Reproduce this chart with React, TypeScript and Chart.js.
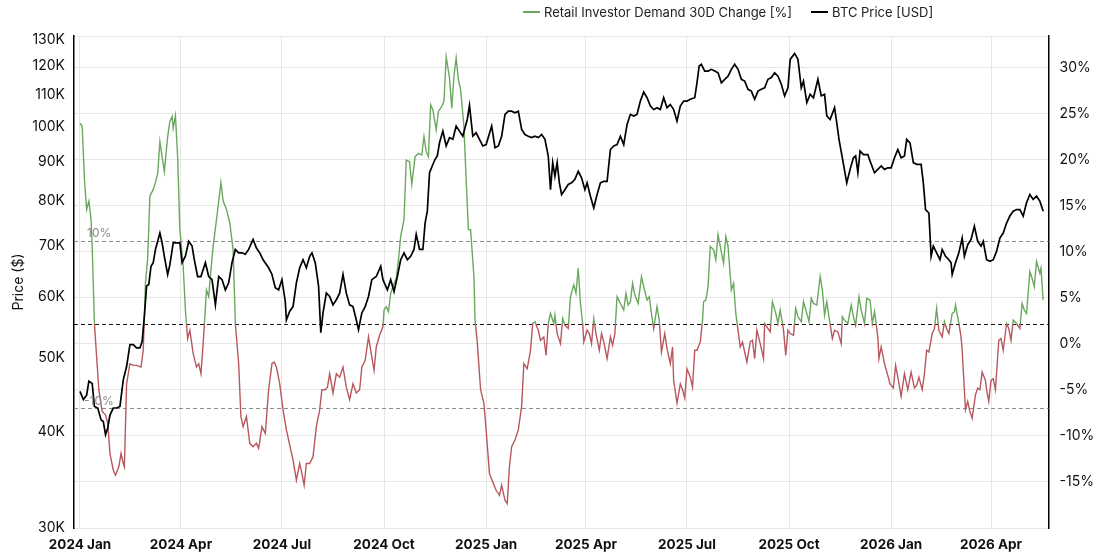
import React, { useEffect, useRef } from 'react';
import { Chart, registerables } from 'chart.js';

Chart.register(...registerables);

// ---- data (days since 2024-01-01) ----
const PRICE_DAYS = [
  0, 3, 6, 8, 11, 13, 16, 19, 21, 23,
  25, 27, 30, 33, 36, 39, 42, 45, 48, 51,
  54, 56, 58, 60, 62, 64, 66, 68, 72, 74,
  76, 79, 81, 84, 87, 90, 92, 95, 98, 101,
  103, 106, 109, 113, 116, 119, 122, 125, 128, 131,
  134, 137, 140, 143, 146, 149, 152, 156, 159, 162,
  165, 170, 173, 176, 179, 182, 185, 186, 189, 192,
  195, 198, 201, 204, 207, 209, 212, 215, 217, 219,
  222, 225, 228, 231, 234, 237, 240, 243, 246, 249,
  251, 254, 257, 260, 263, 267, 271, 273, 277, 280,
  283, 286, 289, 292, 295, 298, 301, 303, 306, 309,
  311, 313, 315, 318, 320, 322, 324, 327, 330, 333,
  336, 339, 342, 345, 347, 349, 351, 354, 357, 360,
  363, 366, 371, 374, 377, 380, 383, 386, 389, 392,
  395, 398, 401, 404, 407, 410, 413, 416, 419, 422,
  424, 426, 428, 430, 432, 434, 437, 440, 443, 446,
  449, 452, 455, 457, 460, 463, 466, 469, 472, 475,
  478, 481, 484, 487, 490, 493, 496, 499, 502, 505,
  508, 511, 514, 517, 520, 523, 526, 529, 532, 535,
  538, 541, 544, 547, 550, 554, 556, 558, 560, 563,
  566, 569, 572, 575, 578, 581, 584, 587, 590, 593,
  596, 599, 602, 605, 608, 611, 614, 617, 620, 623,
  626, 629, 632, 635, 638, 640, 644, 647, 650, 652,
  655, 658, 661, 665, 668, 671, 673, 676, 680, 682,
  684, 687, 691, 694, 697, 699, 701, 703, 706, 710,
  712, 716, 719, 722, 725, 728, 731, 734, 737, 740,
  743, 745, 748, 751, 754, 758, 760, 762, 765, 767,
  769, 772, 775, 777, 780, 783, 785, 786, 789, 792,
  795, 797, 800, 803, 806, 809, 812, 814, 817, 820,
  823, 826, 829, 832, 835, 838, 841, 844, 847, 850,
  853, 856, 859, 862, 865, 868,
];
const PRICE_K = [
  45.2, 44.1, 44.7, 46.6, 46.3, 43.2, 43.0, 41.5, 41.3, 39.7,
  40.5, 42.1, 43.0, 43.0, 43.2, 46.8, 48.7, 52.0, 52.0, 51.5,
  51.5, 52.5, 56.6, 62.0, 62.3, 65.8, 66.5, 69.2, 72.7, 70.6,
  67.8, 64.2, 66.1, 70.6, 70.6, 70.6, 66.5, 67.8, 70.9, 69.9,
  67.1, 63.8, 63.8, 66.5, 63.8, 63.2, 58.6, 63.8, 63.2, 61.3,
  62.6, 66.5, 69.2, 68.5, 68.5, 68.2, 69.2, 71.3, 69.5, 68.5,
  67.1, 65.5, 64.2, 61.7, 61.3, 63.2, 59.2, 56.0, 57.5, 58.3,
  62.6, 65.5, 67.1, 65.5, 67.8, 68.5, 66.5, 62.0, 53.9, 57.2,
  60.7, 60.1, 58.6, 59.5, 60.7, 64.2, 60.7, 58.6, 58.3, 56.0,
  54.4, 57.2, 58.3, 60.1, 63.2, 63.8, 65.8, 63.2, 61.3, 63.2,
  61.0, 63.8, 67.1, 68.5, 67.1, 67.8, 69.2, 72.4, 69.2, 69.2,
  74.9, 77.6, 87.1, 89.3, 90.7, 91.6, 95.3, 98.7, 94.4, 96.8,
  96.3, 100.2, 98.7, 97.2, 99.7, 102.2, 106.6, 97.2, 98.2, 96.3,
  94.4, 94.8, 100.2, 93.9, 94.4, 97.2, 103.8, 104.8, 104.8, 104.3,
  104.8, 99.2, 97.7, 97.2, 96.8, 97.2, 96.8, 97.7, 96.3, 91.6,
  82.8, 89.8, 86.2, 89.8, 84.5, 81.6, 82.8, 84.1, 84.5, 85.4,
  87.5, 85.8, 82.8, 84.5, 81.2, 78.4, 81.6, 84.5, 84.9, 84.9,
  93.4, 94.4, 94.8, 97.2, 94.8, 100.7, 103.8, 103.3, 103.8, 108.0,
  111.0, 109.1, 106.4, 105.3, 105.9, 105.3, 109.1, 105.9, 106.9, 105.3,
  101.7, 106.4, 108.0, 108.0, 108.6, 109.1, 114.1, 120.0, 120.6, 118.2,
  118.2, 118.8, 118.2, 117.6, 114.1, 115.3, 116.4, 118.8, 120.6, 118.8,
  115.3, 114.7, 111.9, 111.3, 108.6, 111.3, 111.9, 112.4, 115.3, 115.9,
  117.6, 116.4, 113.6, 109.7, 112.4, 122.4, 124.6, 122.4, 112.4, 114.7,
  107.5, 110.2, 109.1, 115.3, 109.7, 110.2, 103.3, 102.2, 105.9, 101.2,
  96.3, 91.1, 84.5, 88.0, 91.1, 91.6, 87.1, 93.0, 92.0, 92.0,
  90.2, 87.1, 88.0, 88.9, 88.0, 88.4, 88.4, 91.1, 93.4, 91.1,
  91.6, 96.3, 95.3, 89.8, 89.3, 89.3, 84.5, 78.0, 77.2, 67.8,
  69.9, 68.5, 67.1, 69.2, 67.8, 67.1, 66.5, 64.2, 66.5, 68.5,
  71.6, 67.8, 70.2, 71.3, 74.2, 70.9, 69.9, 70.9, 67.1, 66.8,
  67.1, 68.8, 71.6, 72.7, 74.9, 76.5, 77.6, 78.0, 78.0, 76.5,
  79.6, 81.6, 80.4, 81.2, 80.0, 77.6,
];

const DEMAND_DAYS = [
  0, 2, 4, 6, 8, 10, 11, 13, 15, 17,
  20, 23, 25, 27, 30, 32, 35, 37, 39, 40,
  42, 45, 48, 51, 55, 57, 59, 61, 63, 66,
  68, 70, 72, 74, 76, 79, 81, 83, 84, 86,
  88, 90, 93, 95, 97, 99, 102, 105, 107, 109,
  111, 114, 116, 118, 120, 123, 127, 129, 132, 135,
  138, 140, 143, 145, 147, 150, 153, 156, 159, 161,
  164, 167, 170, 173, 175, 177, 180, 183, 186, 189,
  192, 195, 198, 200, 202, 204, 207, 210, 213, 216,
  218, 221, 223, 225, 228, 231, 234, 237, 240, 243,
  246, 249, 252, 254, 257, 260, 262, 265, 267, 270,
  273, 274, 276, 278, 280, 282, 285, 287, 289, 292,
  294, 297, 299, 302, 305, 308, 310, 312, 314, 316,
  318, 321, 323, 326, 328, 330, 333, 335, 337, 339,
  341, 343, 346, 348, 350, 352, 355, 356, 358, 361,
  364, 366, 369, 372, 375, 378, 380, 383, 385, 387,
  389, 392, 395, 398, 400, 403, 406, 408, 410, 413,
  415, 418, 420, 422, 424, 427, 428, 430, 431, 433,
  435, 437, 440, 442, 445, 447, 449, 451, 453, 454,
  457, 459, 461, 463, 465, 468, 470, 472, 475, 478,
  480, 482, 484, 487, 490, 492, 494, 496, 498, 500,
  503, 506, 508, 511, 513, 515, 517, 520, 522, 524,
  527, 529, 532, 534, 535, 538, 541, 543, 545, 547,
  550, 552, 554, 556, 559, 561, 562, 564, 566, 568,
  571, 573, 575, 577, 580, 582, 584, 587, 589, 591,
  593, 595, 597, 599, 601, 604, 606, 608, 610, 613,
  616, 617, 619, 622, 624, 627, 629, 631, 634, 636,
  638, 640, 643, 645, 647, 650, 652, 655, 657, 659,
  661, 664, 667, 669, 671, 673, 675, 678, 680, 683,
  686, 687, 689, 692, 695, 697, 699, 702, 704, 707,
  709, 712, 714, 716, 719, 720, 722, 725, 728, 730,
  733, 735, 737, 740, 743, 746, 747, 749, 752, 754,
  756, 759, 761, 763, 765, 768, 770, 772, 774, 777,
  779, 781, 783, 786, 788, 789, 792, 794, 795, 798,
  800, 802, 804, 807, 809, 811, 813, 816, 817, 819,
  821, 823, 825, 828, 830, 832, 835, 837, 839, 841,
  844, 847, 849, 851, 853, 856, 858, 860, 862, 865,
  866, 868,
];
const DEMAND_PCT = [
  24.0, 23.6, 17.3, 13.7, 14.7, 12.5, 9.3, 0.1, -3.9, -7.8,
  -10.4, -10.8, -11.8, -15.4, -17.4, -18.0, -17.0, -15.4, -16.6, -17.0,
  -7.1, -4.7, -4.9, -4.9, -5.1, -3.1, 4.9, 7.9, 15.3, 16.1,
  16.9, 18.0, 21.8, 20.0, 18.2, 22.4, 24.2, 24.8, 23.4, 24.9,
  20.0, 11.3, 6.9, 1.7, -1.7, -0.7, -3.5, -5.1, -4.7, -5.9,
  -2.3, 4.1, 3.3, 6.5, 9.3, 12.5, 16.9, 14.7, 13.7, 12.1,
  8.9, 0.1, -4.7, -11.0, -12.2, -11.0, -14.2, -14.6, -14.2, -14.8,
  -12.2, -13.0, -7.8, -4.7, -4.5, -5.1, -7.1, -10.2, -12.6, -14.4,
  -16.2, -18.6, -16.6, -17.8, -19.2, -16.6, -16.6, -15.8, -12.2, -10.2,
  -7.8, -7.8, -7.5, -5.9, -8.2, -5.9, -6.3, -5.1, -7.5, -9.0,
  -7.1, -8.2, -7.8, -5.1, -4.3, -1.5, -3.1, -5.5, -2.7, -1.3,
  -0.3, 1.7, 2.1, 1.5, 3.7, 4.5, 5.5, 7.7, 10.5, 12.5,
  19.6, 19.4, 16.7, 20.0, 20.4, 20.2, 22.4, 20.6, 20.0, 26.2,
  25.6, 23.2, 25.4, 26.0, 26.6, 31.9, 29.4, 25.8, 29.6, 31.8,
  29.2, 28.0, 23.6, 17.3, 11.3, 11.3, 5.7, 0.5, -2.1, -7.8,
  -9.4, -12.6, -17.8, -18.8, -19.8, -20.4, -19.2, -21.0, -21.4, -17.0,
  -14.6, -13.8, -12.6, -9.8, -4.7, -5.3, -3.1, 0.1, 0.3, -0.7,
  -1.9, -1.5, -3.7, 0.1, 1.3, 0.1, 1.1, -1.1, -1.5, -2.3,
  0.7, -0.1, -0.5, 3.3, 4.7, 3.7, 6.7, 2.5, 0.1, -2.1,
  -0.7, -1.1, -2.3, 0.7, -1.1, -3.1, -1.1, -2.1, -4.1, -1.5,
  -2.5, -1.1, 3.3, 2.5, 1.7, 3.7, 2.3, 2.7, 4.9, 3.5,
  2.5, 5.7, 4.5, 2.9, 3.3, 1.3, -0.5, 2.1, 0.5, -3.3,
  -1.1, -2.9, -4.7, -2.7, -6.7, -9.4, -7.1, -7.8, -8.8, -5.3,
  -6.3, -7.5, -3.1, -3.1, -2.1, 0.5, 2.7, 2.9, 4.5, 9.3,
  8.9, 7.7, 10.7, 9.3, 7.3, 10.5, 9.3, 4.1, 4.9, 1.3,
  -0.7, -2.7, -2.1, -3.3, -4.5, -2.1, -1.9, -4.1, -0.7, -2.3,
  -4.1, 0.1, -0.3, -0.9, 2.7, 1.3, 0.1, 1.7, -0.7, -3.7,
  -0.7, -1.1, -1.3, 1.9, 0.9, 0.3, 2.7, 1.3, 0.3, 3.1,
  2.5, 2.3, 5.7, 4.1, 1.1, 2.7, 0.9, -1.7, -0.7, -0.9,
  -2.3, 0.9, 0.5, 0.1, 2.3, 0.9, -0.1, 3.3, 1.7, 0.1,
  3.1, 2.9, 0.1, 1.5, -1.5, -4.1, -2.7, -4.7, -6.1, -7.1,
  -7.6, -4.9, -6.3, -8.6, -5.9, -7.8, -7.1, -5.7, -7.6, -7.3,
  -6.3, -7.8, -5.9, -3.1, -3.3, -1.1, -0.5, 1.9, -0.7, -1.5,
  0.3, -0.5, -1.1, 1.3, 1.5, 2.3, 0.1, -1.5, -3.1, -10.2,
  -9.2, -10.4, -11.2, -8.4, -7.6, -7.8, -5.7, -6.7, -7.8, -9.2,
  -6.7, -6.5, -7.8, -1.9, -1.7, -3.1, 0.1, -0.5, -1.9, 0.5,
  0.1, -0.5, 2.5, 1.7, 1.3, 6.3, 5.5, 4.5, 7.5, 6.1,
  6.7, 2.9,
];

const X_TICK_DAYS = [0, 91, 182, 274, 366, 456, 547, 639, 731, 821];
const X_TICK_LABELS = [
  '2024 Jan', '2024 Apr', '2024 Jul', '2024 Oct', '2025 Jan',
  '2025 Apr', '2025 Jul', '2025 Oct', '2026 Jan', '2026 Apr',
];
const PRICE_TICKS_K = [30, 40, 50, 60, 70, 80, 90, 100, 110, 120, 130];
const PCT_TICKS = [-15, -10, -5, 0, 5, 10, 15, 20, 25, 30];
const BAND_LEVELS = [10, 0, -10];

const GREEN = '#6aa85e';
const RED = '#b8575d';
const FONT = 'Inter, "Noto Sans", Arial, sans-serif';
const TEXT = '#111111';
const GRID = '#e6e6e6';

const bandsPlugin = {
  id: 'bands',
  beforeDatasetsDraw(chart: any) {
    const { ctx, chartArea, scales } = chart;
    const s = scales.yPct;
    ctx.save();
    ctx.lineWidth = 1;
    ctx.setLineDash([4, 3]);
    BAND_LEVELS.forEach((v) => {
      const y = Math.round(s.getPixelForValue(v)) + 0.5;
      ctx.strokeStyle = v === 0 ? '#111111' : '#8c8c8c';
      ctx.beginPath();
      ctx.moveTo(chartArea.left, y);
      ctx.lineTo(chartArea.right, y);
      ctx.stroke();
    });
    ctx.restore();
  },
  afterDatasetsDraw(chart: any) {
    const { ctx, chartArea, scales } = chart;
    const s = scales.yPct;
    ctx.save();
    ctx.font = `12px ${FONT}`;
    ctx.fillStyle = '#8a8a8a';
    ctx.textAlign = 'left';
    ctx.textBaseline = 'middle';
    BAND_LEVELS.filter((v) => v !== 0).forEach((v) => {
      const y = s.getPixelForValue(v) - 7;
      ctx.fillText(`${v}%`, chartArea.left + (v < 0 ? 10 : 13), y);
    });
    ctx.restore();
  },
};

function demandColor(ctx: any) {
  const chart = ctx.chart;
  const { chartArea, scales } = chart;
  if (!chartArea || !scales.yPct) return GREEN;
  const y0 = scales.yPct.getPixelForValue(0);
  const h = chartArea.bottom - chartArea.top;
  const stop = Math.min(1, Math.max(0, (y0 - chartArea.top) / h));
  const g = chart.ctx.createLinearGradient(0, chartArea.top, 0, chartArea.bottom);
  g.addColorStop(0, GREEN);
  g.addColorStop(stop, GREEN);
  g.addColorStop(stop, RED);
  g.addColorStop(1, RED);
  return g;
}

export default function App() {
  const canvasRef = useRef<HTMLCanvasElement | null>(null);

  useEffect(() => {
    if (!canvasRef.current) return;
    const chart = new Chart(canvasRef.current, {
      type: 'line',
      data: {
        datasets: [
          {
            label: 'BTC Price [USD]',
            data: PRICE_DAYS.map((d, i) => ({ x: d, y: PRICE_K[i] })),
            yAxisID: 'yPrice',
            borderColor: '#000000',
            borderWidth: 1.7,
            pointRadius: 0,
            tension: 0,
            order: 0,
          },
          {
            label: 'Retail Investor Demand 30D Change [%]',
            data: DEMAND_DAYS.map((d, i) => ({ x: d, y: DEMAND_PCT[i] })),
            yAxisID: 'yPct',
            borderColor: demandColor,
            borderWidth: 1.4,
            pointRadius: 0,
            tension: 0,
            order: 1,
          },
        ],
      },
      options: {
        animation: false,
        responsive: true,
        maintainAspectRatio: false,
        events: [],
        layout: { padding: { top: 36, left: 0, right: 0, bottom: 0 } },
        plugins: {
          legend: { display: false },
          tooltip: { enabled: false },
        },
        scales: {
          x: {
            type: 'linear',
            min: -5.4,
            max: 872.8,
            afterBuildTicks: (s: any) => {
              s.ticks = X_TICK_DAYS.map((v) => ({ value: v }));
            },
            afterFit: (s: any) => {
              s.height = 27;
            },
            ticks: {
              autoSkip: false,
              maxRotation: 0,
              padding: 9,
              color: TEXT,
              font: { family: FONT, size: 13.5, weight: 'bold' },
              callback: (v: any) => {
                const i = X_TICK_DAYS.indexOf(Number(v));
                return i >= 0 ? X_TICK_LABELS[i] : '';
              },
            },
            grid: { color: GRID, drawTicks: false, lineWidth: 1 },
            border: { display: false },
          },
          yPrice: {
            type: 'logarithmic',
            position: 'left',
            min: 30,
            max: 131.3,
            afterBuildTicks: (s: any) => {
              s.ticks = PRICE_TICKS_K.map((v) => ({ value: v }));
            },
            afterFit: (s: any) => {
              s.width = 74;
            },
            ticks: {
              autoSkip: false,
              padding: 9,
              color: TEXT,
              font: { family: FONT, size: 14 },
              callback: (v: any) => `${v}K`,
            },
            grid: { display: false, drawTicks: false },
            border: { display: true, color: '#000000', width: 1.5 },
            title: {
              display: true,
              text: 'Price ($)',
              color: TEXT,
              font: { family: FONT, size: 14 },
              padding: { top: 10, bottom: 0 },
            },
          },
          yRight: {
            type: 'linear',
            position: 'right',
            min: -20,
            max: 33.4,
            afterBuildTicks: (s: any) => {
              s.ticks = [-20, ...PCT_TICKS, 33.4].map((v) => ({ value: v }));
            },
            afterFit: (s: any) => {
              s.width = 51.5;
            },
            ticks: {
              autoSkip: false,
              padding: 11,
              color: TEXT,
              font: { family: FONT, size: 14 },
              callback: (v: any) => (PCT_TICKS.includes(Number(v)) ? `${v}%` : ''),
            },
            grid: { color: GRID, drawTicks: false, lineWidth: 1 },
            border: { display: true, color: '#000000', width: 1.5 },
          },
          yPct: {
            type: 'linear',
            display: false,
            min: -24.3,
            max: 34.4,
          },
        },
      },
      plugins: [bandsPlugin],
    } as any);
    return () => chart.destroy();
  }, []);

  const legendItem = (color: string, text: string, thick: number) => (
    <div style={{ display: 'flex', alignItems: 'center' }}>
      <span
        style={{
          display: 'inline-block',
          width: 17,
          height: thick,
          background: color,
          marginRight: 4,
        }}
      />
      <span>{text}</span>
    </div>
  );

  return (
    <div
      style={{
        position: 'absolute',
        left: 0,
        top: 0,
        width: 1100,
        height: 555,
        background: '#ffffff',
        fontFamily: FONT,
      }}
    >
      <canvas ref={canvasRef} />
      <div
        style={{
          position: 'absolute',
          left: 523,
          top: 4,
          display: 'flex',
          gap: 19,
          fontSize: 13,
          lineHeight: '16px',
          color: '#222222',
          whiteSpace: 'nowrap',
        }}
      >
        {legendItem(GREEN, 'Retail Investor Demand 30D Change [%]', 1.5)}
        {legendItem('#000000', 'BTC Price [USD]', 2)}
      </div>
    </div>
  );
}
